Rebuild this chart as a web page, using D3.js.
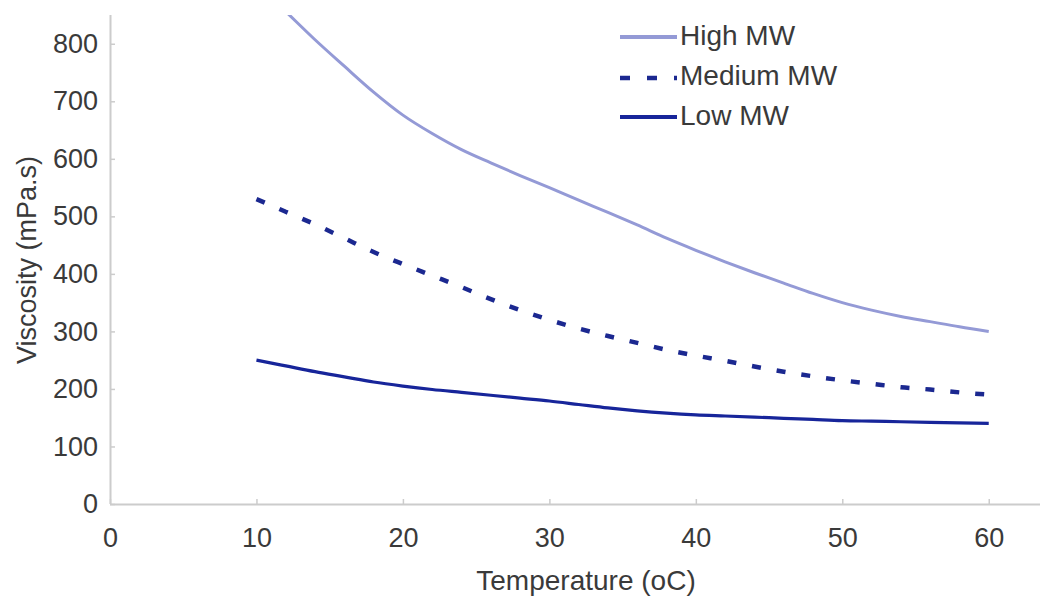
<!DOCTYPE html>
<html>
<head>
<meta charset="utf-8">
<script src="https://cdn.jsdelivr.net/npm/d3@7"></script>
<style>
  html, body { margin: 0; padding: 0; background: #fff; }
  svg { display: block; font-family: "Liberation Sans", Arial, sans-serif; }
</style>
</head>
<body>
<svg id="chart" width="1048" height="599"></svg>
<script>
// ---- data ----
const temperatures = [10, 12, 14, 16, 18, 20, 22, 24, 26, 28, 30, 32, 34, 36, 38, 40, 42, 44, 46, 48, 50, 52, 54, 56, 58, 60];
const highMW   = [905, 856, 807, 761, 716, 676, 644, 616, 593, 571, 550, 528, 507, 485, 462, 441, 421, 402, 384, 366, 350, 337, 326, 317, 308, 300];
const mediumMW = [530, 508, 486, 462, 438, 417, 397, 377, 356, 337, 320, 305, 292, 280, 268, 258, 249, 239, 230, 222, 215, 209, 203, 199, 194, 190];
const lowMW    = [250, 240, 230, 221, 212, 205, 199, 194, 189, 184, 179, 173, 167, 162, 158, 155, 153, 151, 149, 147, 145, 144, 143, 142, 141, 140];
const seriesNames = ["High MW", "Medium MW", "Low MW"];
const xTicks = [0, 10, 20, 30, 40, 50, 60];
const yTicks = [0, 100, 200, 300, 400, 500, 600, 700, 800];
const xTitle = "Temperature (oC)";
const yTitle = "Viscosity (mPa.s)";

// ---- layout ----
const svg = d3.select("#chart");
const mLeft = 110, mRight = 1040, mTop = 15, mBottom = 504;
const x = d3.scaleLinear().domain([0, 63.5]).range([mLeft, mRight]);
const y = d3.scaleLinear().domain([0, 850]).range([mBottom, mTop]);

const axisColor = "#cccccc";
const textColor = "#3a3a3a";
const fontSize = 27;

// clip
svg.append("defs").append("clipPath").attr("id", "plotclip")
  .append("rect").attr("x", mLeft).attr("y", mTop).attr("width", mRight - mLeft).attr("height", mBottom - mTop);

// axes
const xAxis = svg.append("g").attr("transform", `translate(0,${mBottom})`)
  .call(d3.axisBottom(x).tickValues(xTicks).tickSize(-5).tickPadding(24).tickFormat(d3.format("d")));
const yAxis = svg.append("g").attr("transform", `translate(${mLeft},0)`)
  .call(d3.axisLeft(y).tickValues(yTicks).tickSize(-5).tickPadding(12).tickFormat(d3.format("d")));

[xAxis, yAxis].forEach(g => {
  g.select(".domain").attr("stroke", axisColor).attr("stroke-width", 2);
  g.selectAll(".tick line").attr("stroke", axisColor).attr("stroke-width", 1.5);
  g.selectAll(".tick text").attr("fill", textColor).attr("font-size", fontSize)
    .attr("font-family", "'Liberation Sans', Arial, sans-serif");
});
xAxis.select(".domain").attr("d", `M${mLeft},0.5H${mRight}`);
yAxis.select(".domain").attr("d", `M0.5,${mBottom}V${mTop}`);

// titles
svg.append("text").attr("x", 586).attr("y", 590).attr("text-anchor", "middle")
  .attr("fill", textColor).attr("font-size", 28).text(xTitle);
svg.append("text").attr("transform", `translate(36,260) rotate(-90)`).attr("text-anchor", "middle")
  .attr("fill", textColor).attr("font-size", fontSize).text(yTitle);

// lines
const styles = [
  { color: "#949ad6", width: 3, dash: null },
  { color: "#1b2890", width: 4.5, dash: "9,16" },
  { color: "#17259a", width: 3.2, dash: null }
];
const seriesData = [highMW, mediumMW, lowMW];
const line = d3.line().x(d => x(d[0])).y(d => y(d[1])).curve(d3.curveMonotoneX);
const plot = svg.append("g").attr("clip-path", "url(#plotclip)");
seriesData.forEach((vals, i) => {
  const pts = temperatures.map((t, j) => [t, vals[j]]);
  plot.append("path").attr("d", line(pts)).attr("fill", "none")
    .attr("stroke", styles[i].color).attr("stroke-width", styles[i].width)
    .attr("stroke-dasharray", styles[i].dash).attr("stroke-linecap", "butt");
});

// legend
const legendLineY = [37, 78, 117];
const legendTextY = [35, 75, 115];
seriesNames.forEach((name, i) => {
  const g = svg.append("g");
  g.append("line").attr("x1", 620).attr("x2", 677).attr("y1", legendLineY[i]).attr("y2", legendLineY[i])
    .attr("stroke", styles[i].color).attr("stroke-width", i === 1 ? 4.5 : 3.8)
    .attr("stroke-dasharray", i === 1 ? "10,17" : null);
  g.append("text").attr("x", 680).attr("y", legendTextY[i]).attr("dy", "0.36em")
    .attr("fill", textColor).attr("font-size", 28).text(name);
});
</script>
</body>
</html>
